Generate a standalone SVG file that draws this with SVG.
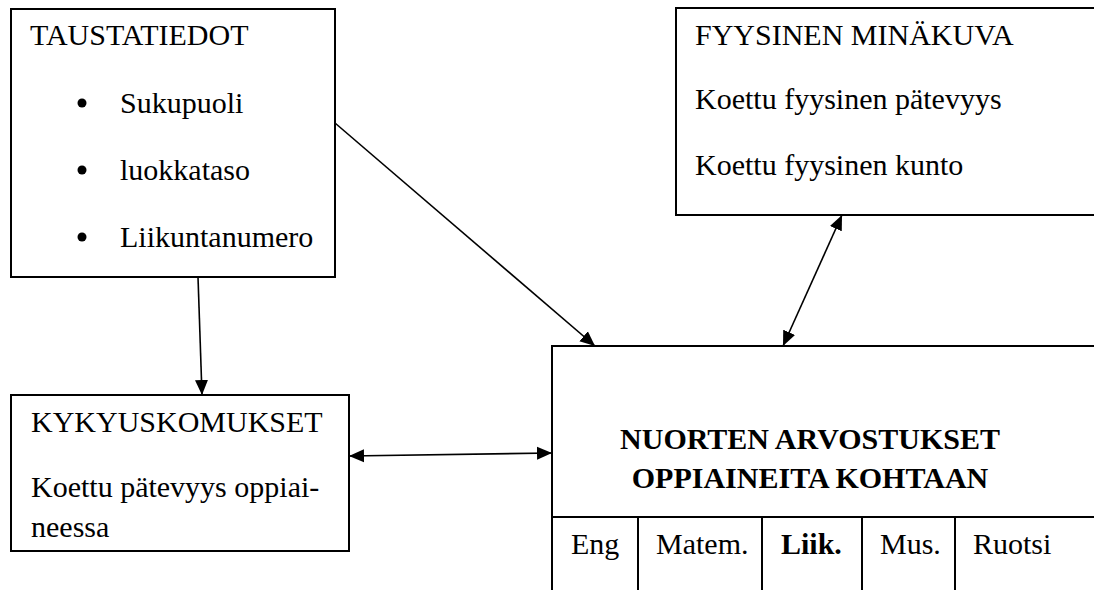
<svg xmlns="http://www.w3.org/2000/svg" width="1094" height="590" viewBox="0 0 1094 590">
<defs>
<style>
.box{fill:#fff;stroke:#000;stroke-width:2}
.t{font-family:'Liberation Serif','Times New Roman',Times,Tinos,'Nimbus Roman','DejaVu Serif',serif;font-size:30px;fill:#000}
.b{font-weight:bold}
.c{stroke:#000;stroke-width:1.6;fill:none}
</style>
<marker id="ah" markerUnits="userSpaceOnUse" markerWidth="16" markerHeight="14" refX="15" refY="6.5" orient="auto-start-reverse" viewBox="0 0 16 13">
<path d="M0,0 L15,6.5 L0,13 z" fill="#000"/>
</marker>
</defs>
<rect width="1094" height="590" fill="#fff"/>
<g id="taustatiedot">
<rect class="box" x="11" y="9" width="324" height="268"/>
<text class="t" x="30" y="45" font-family="Liberation Serif, serif">TAUSTATIEDOT</text>
<circle cx="82" cy="103" r="4.5"/>
<text class="t" x="120" y="113" font-family="Liberation Serif, serif">Sukupuoli</text>
<circle cx="82" cy="170" r="4.5"/>
<text class="t" x="120" y="180" font-family="Liberation Serif, serif">luokkataso</text>
<circle cx="82" cy="237" r="4.5"/>
<text class="t" x="120" y="247" font-family="Liberation Serif, serif">Liikuntanumero</text>
</g>
<g id="fyysinen">
<rect class="box" x="676" y="8" width="430" height="207"/>
<text class="t" x="695" y="45" font-family="Liberation Serif, serif">FYYSINEN MINÄKUVA</text>
<text class="t" x="695" y="109" font-family="Liberation Serif, serif">Koettu fyysinen pätevyys</text>
<text class="t" x="695" y="175" font-family="Liberation Serif, serif">Koettu fyysinen kunto</text>
</g>
<g id="kykyuskomukset">
<rect class="box" x="11" y="395" width="338" height="156"/>
<text class="t" x="31" y="432" font-family="Liberation Serif, serif">KYKYUSKOMUKSET</text>
<text class="t" x="31" y="497" font-family="Liberation Serif, serif">Koettu pätevyys oppiai-</text>
<text class="t" x="31" y="537" font-family="Liberation Serif, serif">neessa</text>
</g>
<g id="arvostukset">
<rect class="box" x="552" y="346" width="560" height="260"/>
<line class="box" x1="552" y1="517" x2="1100" y2="517"/>
<line class="box" x1="638" y1="517" x2="638" y2="600"/>
<line class="box" x1="762" y1="517" x2="762" y2="600"/>
<line class="box" x1="862" y1="517" x2="862" y2="600"/>
<line class="box" x1="955" y1="517" x2="955" y2="600"/>
<text class="t b" x="810" y="449" text-anchor="middle" font-family="Liberation Serif, serif">NUORTEN ARVOSTUKSET</text>
<text class="t b" x="810" y="488" text-anchor="middle" font-family="Liberation Serif, serif">OPPIAINEITA KOHTAAN</text>
<text class="t" x="571" y="554" font-family="Liberation Serif, serif">Eng</text>
<text class="t" x="656" y="554" font-family="Liberation Serif, serif">Matem.</text>
<text class="t b" x="781" y="554" font-family="Liberation Serif, serif">Liik.</text>
<text class="t" x="880" y="554" font-family="Liberation Serif, serif">Mus.</text>
<text class="t" x="973" y="554" font-family="Liberation Serif, serif">Ruotsi</text>
</g>
<g id="connectors">
<line class="c" x1="198" y1="277" x2="202" y2="395" marker-end="url(#ah)"/>
<line class="c" x1="335" y1="123" x2="595" y2="346" marker-end="url(#ah)"/>
<line class="c" x1="842" y1="215" x2="783" y2="346" marker-start="url(#ah)" marker-end="url(#ah)"/>
<line class="c" x1="349" y1="456" x2="552" y2="453" marker-start="url(#ah)" marker-end="url(#ah)"/>
</g>
</svg>
